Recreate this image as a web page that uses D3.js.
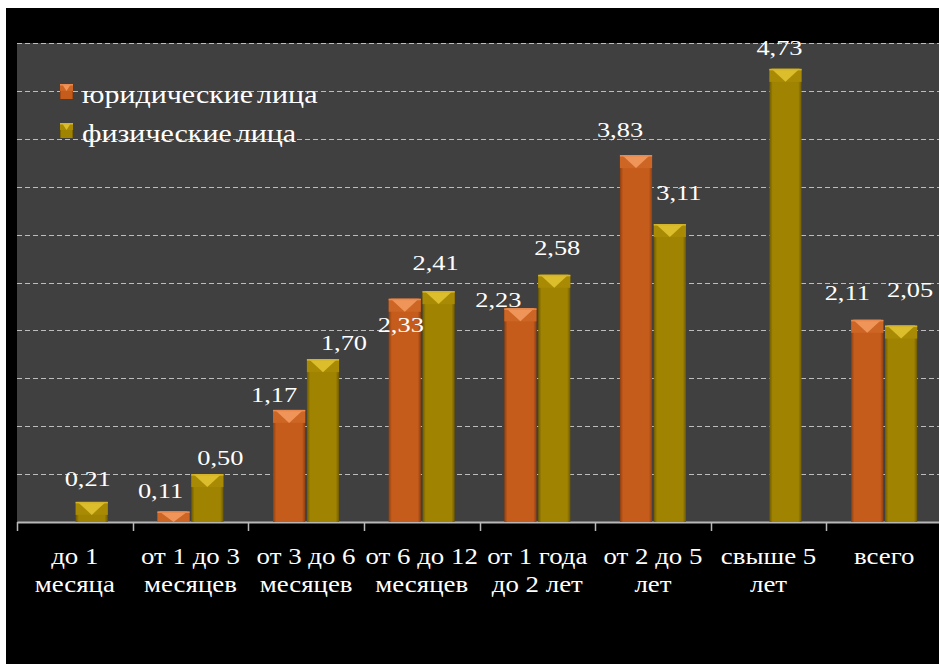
<!DOCTYPE html>
<html><head><meta charset="utf-8">
<script src="https://cdn.jsdelivr.net/npm/d3@7"></script>
</head>
<body style="margin:0">
<svg id="chart" width="939" height="664"></svg>
<script>
// ---- data ----
const categories = [
  ["до 1", "месяца"],
  ["от 1 до 3", "месяцев"],
  ["от 3 до 6", "месяцев"],
  ["от 6 до 12", "месяцев"],
  ["от 1 года", "до 2 лет"],
  ["от 2 до 5", "лет"],
  ["свыше 5", "лет"],
  ["всего"]
];
const seriesNames = ["юридические лица", "физические лица"];
const legalValues    = [null, 0.11, 1.17, 2.33, 2.23, 3.83, null, 2.11];
const physicalValues = [0.21, 0.50, 1.70, 2.41, 2.58, 3.11, 4.73, 2.05];
const yTicks = [0, 0.5, 1, 1.5, 2, 2.5, 3, 3.5, 4, 4.5, 5];
// manual label nudges (relative to bar centre / bar top), as placed in the original
const legalLabelDx = [0, -13, -15, -4, -22, -16, 0, -20];
const legalLabelDy = [0, -13, -8, 33, -1, -18, 0, -20];
const physLabelDx  = [-4, 13, 21, -3, 3, 9, -6, 9];
const physLabelDy  = [-16, -9, -9, -21, -20, -24, -14, -29];

const fmt = v => v.toFixed(2).replace(".", ",");
const SX = 1.2; // horizontal text stretch of original

const svg = d3.select("#chart").style("display", "block");
svg.append("rect").attr("x", 0).attr("y", 0).attr("width", 939).attr("height", 664).attr("fill", "#fff");
svg.append("rect").attr("x", 6).attr("y", 8).attr("width", 933).attr("height", 656).attr("fill", "#000");

const plot = {left: 17, right: 942, top: 43, bottom: 522};
svg.append("rect").attr("x", plot.left).attr("y", plot.top)
  .attr("width", 939 - plot.left).attr("height", plot.bottom - plot.top).attr("fill", "#404040");

const catKeys = categories.map((c, i) => i);
const x = d3.scaleBand().domain(catKeys).range([plot.left, plot.right]).paddingInner(0).paddingOuter(0);
const y = d3.scaleLinear().domain([0, 5]).range([plot.bottom, plot.top]);
const xs = d3.scaleBand().domain([0, 1]).range([-33, 33]).paddingInner(0.05);

const defs = svg.append("defs");
function hGrad(id, edge, mid) {
  const g = defs.append("linearGradient").attr("id", id).attr("x1", "0").attr("x2", "1").attr("y1", "0").attr("y2", "0");
  g.append("stop").attr("offset", "0").attr("stop-color", edge);
  g.append("stop").attr("offset", "0.1").attr("stop-color", mid);
  g.append("stop").attr("offset", "0.9").attr("stop-color", mid);
  g.append("stop").attr("offset", "1").attr("stop-color", edge);
}
hGrad("gOr", "#8f3f10", "#c65c1c");
hGrad("gGd", "#6e5a00", "#a08300");
const palette = [
  {body: "url(#gOr)", band: "#cd6524", tri: "#f0955a", edge: "#e88a50"},
  {body: "url(#gGd)", band: "#a88a04", tri: "#dcbd2c", edge: "#d4b42a"}
];

// gridlines
svg.append("g").selectAll("line").data(yTicks.slice(1)).join("line")
  .attr("x1", plot.left).attr("x2", 939)
  .attr("y1", d => Math.round(y(d)) + 0.5).attr("y2", d => Math.round(y(d)) + 0.5)
  .attr("stroke", "#bdbdbd").attr("stroke-width", 1).attr("stroke-dasharray", "5,3");

// x axis
const ax = svg.append("g").attr("transform", `translate(0,${plot.bottom})`)
  .call(d3.axisBottom(x).tickSize(0).tickFormat(""));
ax.select(".domain").attr("stroke", "#b8b8b8").attr("stroke-width", 2);
ax.selectAll(".tick").remove();
ax.attr("font-family", null).attr("font-size", null);
svg.append("g").selectAll("line").data(catKeys).join("line")
  .attr("x1", d => Math.round(x(d)) + 0.5).attr("x2", d => Math.round(x(d)) + 0.5)
  .attr("y1", plot.bottom).attr("y2", plot.bottom + 9)
  .attr("stroke", "#b8b8b8").attr("stroke-width", 1.5);

function drawBar(g, x0, w, top, bottom, pal, bev) {
  const h = bottom - top;
  if (h <= 0) return;
  g.append("rect").attr("x", x0).attr("y", top).attr("width", w).attr("height", h).attr("fill", pal.body);
  const bh = Math.min(bev, h);
  g.append("rect").attr("x", x0).attr("y", top).attr("width", w).attr("height", bh).attr("fill", pal.band);
  g.append("path").attr("d", `M${x0 + 2},${top}L${x0 + w - 2},${top}L${x0 + w / 2},${top + bh}Z`).attr("fill", pal.tri);
  g.append("rect").attr("x", x0).attr("y", top).attr("width", w).attr("height", 1.5).attr("fill", pal.edge);
}
const bars = svg.append("g");
const seriesValues = [legalValues, physicalValues];
seriesValues.forEach((vals, s) => {
  vals.forEach((v, i) => {
    if (v == null) return;
    const x0 = x(i) + x.bandwidth() / 2 + xs(s);
    drawBar(bars, x0, xs.bandwidth(), y(v), y(0), palette[s], 13);
  });
});

function addText(g, tx, ty, sx, size, str, anchor) {
  return g.append("text").attr("transform", `translate(${tx},${ty}) scale(${sx},1)`)
    .attr("text-anchor", anchor).attr("fill", "#fff")
    .attr("font-family", "Liberation Serif")
    .attr("font-size", size)
    .style("font-family", '"Liberation Serif", "Times New Roman", Tinos, serif', "important")
    .text(str);
}

// data labels
const labels = svg.append("g");
const dxs = [legalLabelDx, physLabelDx], dys = [legalLabelDy, physLabelDy];
seriesValues.forEach((vals, s) => {
  vals.forEach((v, i) => {
    if (v == null) return;
    const cx = x(i) + x.bandwidth() / 2 + xs(s) + xs.bandwidth() / 2 + dxs[s][i];
    addText(labels, cx, y(v) + dys[s][i], SX, 22, fmt(v), "middle");
  });
});

// category labels
const catG = svg.append("g");
categories.forEach((lines, i) => {
  lines.forEach((t, k) => {
    addText(catG, x(i) + x.bandwidth() / 2, 564 + k * 28, 1.12, 24, t, "middle");
  });
});

// legend
const leg = svg.append("g");
seriesNames.forEach((name, s) => {
  const ly = 84 + s * 39;
  drawBar(leg.append("g"), 60, 13, ly, ly + 15, palette[s], 7);
  addText(leg, 82, ly + 19, SX, 25, name, "start").attr("word-spacing", -3);
});
</script>
</body></html>
